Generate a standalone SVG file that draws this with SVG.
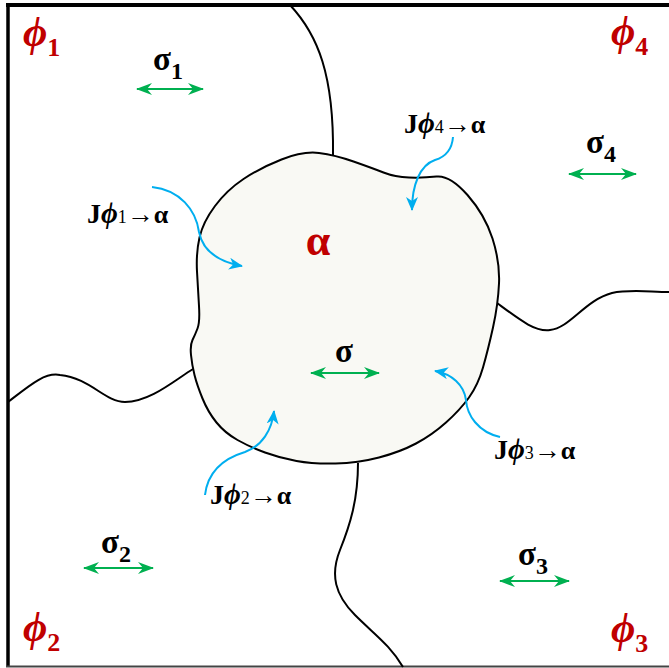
<svg xmlns="http://www.w3.org/2000/svg" width="669" height="668" viewBox="0 0 669 668">
<style>
.bd{fill:none;stroke:#000;stroke-width:2}
.gr{fill:none;stroke:#00b050;stroke-width:2.2;marker-start:url(#gh);marker-end:url(#gh)}
.bl{fill:none;stroke:#00aeef;stroke-width:2;marker-end:url(#bh)}
.ph{font-family:"Liberation Serif",serif;font-weight:bold;fill:#c00000}
.sg{font-family:"Liberation Serif",serif;font-weight:bold;fill:#000}
.j{font-family:"Liberation Serif",serif;font-weight:bold;font-size:28px;fill:#000}
.jp{font-style:italic;font-size:29px}
.js{font-weight:normal;font-size:18px}
.ja{font-weight:normal;font-size:27px}
.jl{font-size:26px}
</style>
<defs>
<marker id="gh" viewBox="0 0 16 12" markerWidth="16" markerHeight="12" refX="15" refY="6" markerUnits="userSpaceOnUse" orient="auto-start-reverse">
<path d="M0,0 L16,6 L0,12 L5,6 Z" fill="#00b050"/>
</marker>
<marker id="bh" viewBox="0 0 14 12" markerWidth="14" markerHeight="12" refX="13" refY="6" markerUnits="userSpaceOnUse" orient="auto">
<path d="M0,0 L14,6 L0,12 L4,6 Z" fill="#00aeef"/>
</marker>
</defs>
<rect width="669" height="668" fill="#fff"/>
<g id="frame">
<line x1="6" y1="5" x2="669" y2="5" stroke="#000" stroke-width="4"/>
<line x1="8" y1="3" x2="8" y2="667" stroke="#000" stroke-width="3.5"/>
<line x1="6" y1="666.5" x2="669" y2="666.5" stroke="#444" stroke-width="2"/>
</g>
<g id="boundaries">
<path class="bd" d="M290,5 C318,35 334,75 333,155"/>
<path class="bd" d="M8,402 C30,385 45,372 60,375 C90,378 105,402 125,402 C150,402 175,380 193,369"/>
<path class="bd" d="M497,303 C520,320 535,332 550,330 C570,328 585,300 612,293 C630,289 650,292 669,292"/>
<path class="bd" d="M358,463 C358,500 350,525 340,550 C330,575 335,595 355,615 C375,635 390,645 403,667"/>
</g>
<g id="grain">
<path d="M243.5,179 Q260,168 281.5,159.5 Q303,151 319,153 Q335,155 353.5,161.5 Q372,168 383.5,172.5 Q395,177 409,177.5 Q423,178 436.5,176.5 Q450,175 467.5,195 Q485,215 492.5,238.5 Q500,262 499,283.5 Q498,305 493,327.5 Q488,350 483,367.5 Q478,385 469,397.5 Q460,410 446,422.5 Q432,435 416,443.5 Q400,452 379,457.5 Q358,463 335.5,463.5 Q313,464 296.5,461 Q280,458 265,452.5 Q250,447 237.5,440 Q225,433 216.5,422.5 Q208,412 202.5,398.5 Q197,385 194.5,375 Q192,365 191,355 Q190,345 192.5,340 Q195,335 197.5,328.5 Q200,322 199,306 Q198,290 197,271.5 Q196,253 199.5,237.5 Q203,222 215,206 Q227,190 243.5,179 Z" fill="#f9f9f4" stroke="#000" stroke-width="2"/>
<text x="318" y="255" class="ph" font-size="44" text-anchor="middle">α</text>
</g>
<g id="phase-labels">
<text x="23" y="46" class="ph" font-size="42"><tspan font-style="italic">ϕ</tspan><tspan font-size="26" dy="10">1</tspan></text>
<text x="611" y="45" class="ph" font-size="42"><tspan font-style="italic">ϕ</tspan><tspan font-size="26" dy="10">4</tspan></text>
<text x="23" y="641" class="ph" font-size="42"><tspan font-style="italic">ϕ</tspan><tspan font-size="26" dy="10">2</tspan></text>
<text x="611" y="642" class="ph" font-size="42"><tspan font-style="italic">ϕ</tspan><tspan font-size="26" dy="10">3</tspan></text>
</g>
<g id="stresses">
<text x="153" y="70" class="sg" font-size="33">σ<tspan font-size="24" dy="9">1</tspan></text>
<path class="gr" d="M137,89 H203"/>
<text x="586" y="153" class="sg" font-size="33">σ<tspan font-size="24" dy="9">4</tspan></text>
<path class="gr" d="M569,174 H636"/>
<text x="344" y="362" class="sg" font-size="33" text-anchor="middle">σ</text>
<path class="gr" d="M311,373 H379"/>
<text x="101" y="553" class="sg" font-size="33">σ<tspan font-size="24" dy="9">2</tspan></text>
<path class="gr" d="M84,568 H153"/>
<text x="518" y="565" class="sg" font-size="33">σ<tspan font-size="24" dy="9">3</tspan></text>
<path class="gr" d="M500,581 H569"/>
</g>
<g id="connectors">
<path class="bl" d="M152,187 C180,190 196,210 199,232 C203,252 220,262 242,266"/>
<path class="bl" d="M453,137 C452,150 445,157 435,160 C420,165 412,185 412,210"/>
<path class="bl" d="M205,495 C208,470 225,458 245,452 C262,446 272,430 274,411"/>
<path class="bl" d="M500,437 C478,432 467,415 466,400 C464,385 452,374 435,371"/>
</g>
<g id="flux-labels">
<text x="87" y="223" class="j">J<tspan class="jp">ϕ</tspan><tspan class="js">1</tspan><tspan class="ja">→</tspan><tspan class="jl">α</tspan></text>
<text x="404" y="133" class="j">J<tspan class="jp">ϕ</tspan><tspan class="js">4</tspan><tspan class="ja">→</tspan><tspan class="jl">α</tspan></text>
<text x="494" y="459" class="j">J<tspan class="jp">ϕ</tspan><tspan class="js">3</tspan><tspan class="ja">→</tspan><tspan class="jl">α</tspan></text>
<text x="210" y="504" class="j">J<tspan class="jp">ϕ</tspan><tspan class="js">2</tspan><tspan class="ja">→</tspan><tspan class="jl">α</tspan></text>
</g>
</svg>
